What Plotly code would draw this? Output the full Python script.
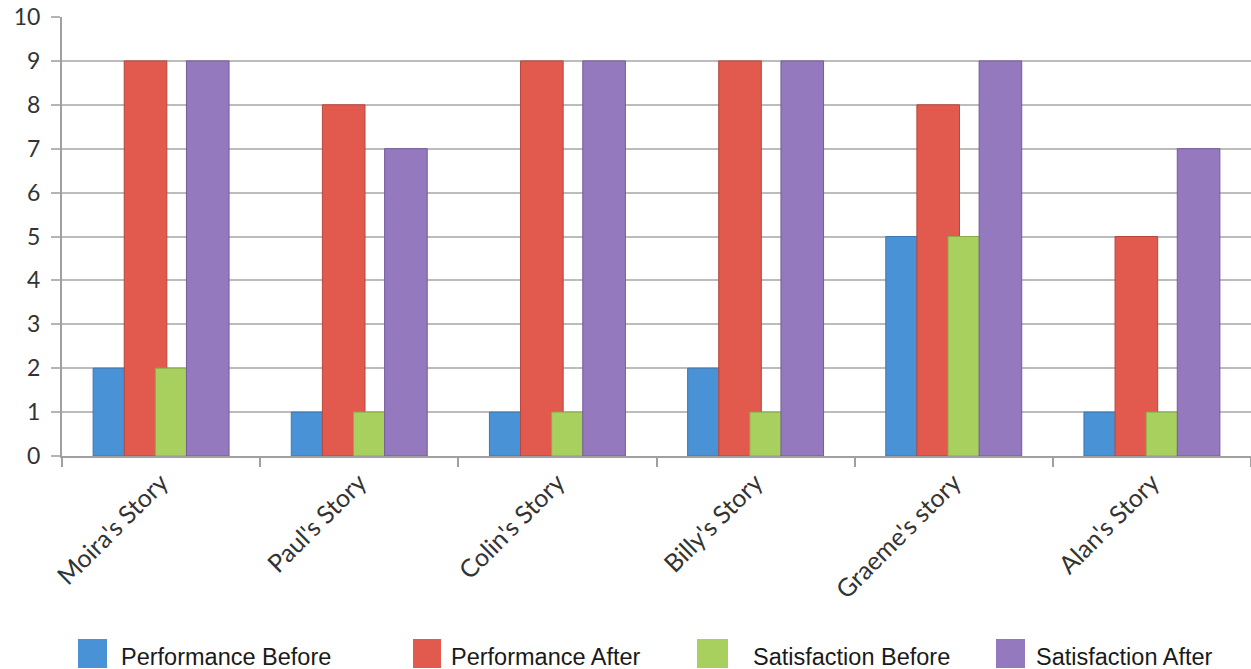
import plotly.graph_objects as go

# Story categories and ratings for each measure
stories = ["Moira's Story", "Paul's Story", "Colin's Story", "Billy's Story",
           "Graeme's story", "Alan's Story"]
performance_before = [2, 1, 1, 2, 5, 1]
performance_after = [9, 8, 9, 9, 8, 5]
satisfaction_before = [2, 1, 1, 1, 5, 1]
satisfaction_after = [9, 7, 9, 9, 9, 7]

series_names = ["Performance Before", "Performance After",
                "Satisfaction Before", "Satisfaction After"]
series_values = [performance_before, performance_after,
                 satisfaction_before, satisfaction_after]
fill_colors = ["#4a92d6", "#e2594e", "#a8d05e", "#9579be"]
edge_colors = ["#3a78b4", "#b8463d", "#8aab4a", "#735b99"]

W, H = 1251, 669
ML, MR, MT, MB = 62, 0, 17, 213
plot_w = W - ML - MR
plot_h = H - MT - MB

# overlapping clustered bars: each bar is wider than its step
bar_width = 0.215
bar_step = 0.157
first_offset = -0.343

fig = go.Figure()
for i, (name, vals) in enumerate(zip(series_names, series_values)):
    fig.add_trace(go.Bar(
        x=stories, y=vals, name=name,
        width=[bar_width] * len(stories),
        offset=[first_offset + i * bar_step] * len(stories),
        marker=dict(color=fill_colors[i], line=dict(color=edge_colors[i], width=1)),
        showlegend=False,
    ))

# legend drawn along the bottom edge
def px_x(px):
    return (px - ML) / plot_w

def px_y(py):
    return (H - MB - py) / plot_h

legend_boxes = [(78, 107), (413, 441), (697, 728), (996, 1025)]
legend_text_x = [119, 449, 751, 1034]
shapes = []
annotations = []
for i, name in enumerate(series_names):
    x0, x1 = legend_boxes[i]
    shapes.append(dict(type="rect", xref="paper", yref="paper",
                       x0=px_x(x0), x1=px_x(x1), y0=px_y(668), y1=px_y(639),
                       fillcolor=fill_colors[i], line=dict(width=0)))
    annotations.append(dict(xref="paper", yref="paper", x=px_x(legend_text_x[i]),
                            y=px_y(657), xanchor="left", yanchor="middle",
                            text=name, showarrow=False,
                            font=dict(family="Liberation Sans, Arial", size=23.5,
                                      color="#1a1a1a")))

fig.update_layout(
    width=W, height=H,
    margin=dict(l=ML, r=MR, t=MT, b=MB, autoexpand=False),
    barmode="overlay",
    paper_bgcolor="white", plot_bgcolor="white",
    shapes=shapes, annotations=annotations,
    font=dict(family="Lato, Carlito, sans-serif", color="#404040"),
)
fig.update_xaxes(
    type="category", tickson="boundaries", ticks="outside", ticklen=9,
    tickcolor="#a0a0a0", tickwidth=2, tickangle=-45,
    tickfont=dict(size=25, color="#333333"),
    showline=True, linecolor="#a0a0a0", linewidth=2,
    showgrid=False, range=[-0.5, 5.5],
)
fig.update_yaxes(
    range=[0, 10], dtick=1, ticks="outside", ticklen=9,
    tickcolor="#b4b4b4", tickwidth=2,
    tickfont=dict(size=23, color="#333333"),
    showline=True, linecolor="#a0a0a0", linewidth=2,
    showgrid=True, gridcolor="#bcbcbc", gridwidth=2,
    zeroline=False, ticklabelstandoff=6,
)

fig.write_html("out.html")
